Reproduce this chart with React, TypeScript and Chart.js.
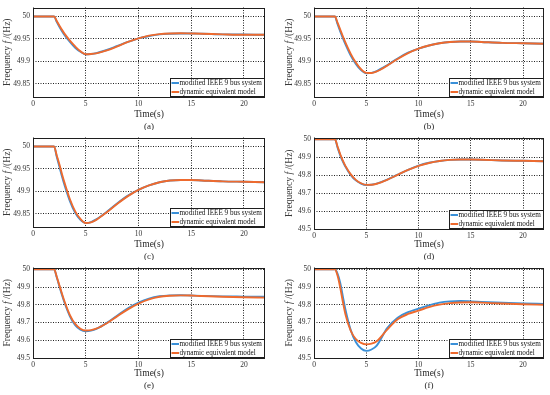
import React, { useEffect, useRef } from 'react';
import { Chart, registerables } from 'chart.js';

Chart.register(...registerables);

// ---------- data ----------
const time = [0, 2, 2.25, 2.5, 2.75, 3, 3.5, 4, 4.5, 5, 5.5, 6, 7, 8, 9, 10, 11, 12, 13, 14, 15, 16, 18, 20, 22];

const blueA = [50, 50, 49.988, 49.977, 49.967, 49.958, 49.943, 49.930, 49.921, 49.915, 49.916, 49.918, 49.925, 49.934, 49.943, 49.951, 49.956, 49.960, 49.9615, 49.962, 49.962, 49.9615, 49.960, 49.9595, 49.959];
const orangeA = [50, 50, 49.990, 49.980, 49.970, 49.961, 49.946, 49.933, 49.922, 49.9155, 49.916, 49.9175, 49.924, 49.933, 49.943, 49.951, 49.957, 49.9605, 49.962, 49.9625, 49.962, 49.9615, 49.960, 49.959, 49.959];

const blueB = [50, 50, 49.983, 49.967, 49.952, 49.938, 49.913, 49.894, 49.880, 49.873, 49.874, 49.878, 49.891, 49.906, 49.919, 49.928, 49.935, 49.940, 49.943, 49.944, 49.944, 49.943, 49.941, 49.940, 49.939];
const orangeB = [50, 50, 49.986, 49.971, 49.956, 49.942, 49.917, 49.897, 49.882, 49.874, 49.8735, 49.877, 49.890, 49.905, 49.918, 49.928, 49.935, 49.940, 49.943, 49.944, 49.944, 49.943, 49.941, 49.940, 49.939];

const blueC = [50, 50, 49.977, 49.955, 49.933, 49.913, 49.878, 49.852, 49.836, 49.829, 49.831, 49.837, 49.854, 49.873, 49.890, 49.903, 49.913, 49.920, 49.924, 49.925, 49.925, 49.924, 49.922, 49.921, 49.920];
const orangeC = [50, 50, 49.980, 49.960, 49.938, 49.918, 49.882, 49.855, 49.838, 49.829, 49.8305, 49.836, 49.853, 49.872, 49.889, 49.903, 49.913, 49.920, 49.924, 49.925, 49.925, 49.924, 49.922, 49.921, 49.920];

const blueD = [50, 50, 49.955, 49.912, 49.877, 49.848, 49.802, 49.771, 49.753, 49.745, 49.747, 49.753, 49.775, 49.803, 49.830, 49.853, 49.869, 49.879, 49.885, 49.887, 49.887, 49.886, 49.882, 49.880, 49.878];
const orangeD = [50, 50, 49.960, 49.918, 49.882, 49.852, 49.806, 49.774, 49.755, 49.746, 49.7465, 49.752, 49.774, 49.802, 49.829, 49.852, 49.868, 49.879, 49.885, 49.887, 49.887, 49.886, 49.882, 49.880, 49.878];

const blueE = [50, 50, 49.955, 49.905, 49.855, 49.810, 49.735, 49.685, 49.659, 49.650, 49.654, 49.664, 49.698, 49.740, 49.780, 49.812, 49.835, 49.848, 49.853, 49.854, 49.852, 49.850, 49.847, 49.846, 49.845];
const orangeE = [50, 50, 49.958, 49.910, 49.862, 49.817, 49.742, 49.692, 49.665, 49.655, 49.657, 49.665, 49.696, 49.736, 49.774, 49.806, 49.830, 49.845, 49.851, 49.853, 49.852, 49.849, 49.845, 49.842, 49.840];

const blueF = [50, 50, 49.975, 49.925, 49.850, 49.775, 49.660, 49.590, 49.553, 49.540, 49.548, 49.570, 49.668, 49.727, 49.758, 49.778, 49.797, 49.812, 49.819, 49.821, 49.819, 49.816, 49.811, 49.807, 49.805];
const orangeF = [50, 50, 49.965, 49.900, 49.820, 49.748, 49.655, 49.607, 49.585, 49.577, 49.581, 49.595, 49.660, 49.718, 49.748, 49.767, 49.787, 49.801, 49.809, 49.813, 49.814, 49.812, 49.807, 49.803, 49.800];

const xTicks = [0, 5, 10, 15, 20];
const yTicksFine = [49.85, 49.9, 49.95, 50];
const yTicksCoarse = [49.5, 49.6, 49.7, 49.8, 49.9, 50];
const seriesLabels = ['modified IEEE 9 bus system', 'dynamic equivalent model'];
const panelLabels = ['(a)', '(b)', '(c)', '(d)', '(e)', '(f)'];
const xTitle = 'Time(s)';
const yTitleParts = ['Frequency ', 'f', ' /(Hz)'];

// ---------- style / layout ----------
const BLUE = '#3a90d8';
const ORANGE = '#ee6a2e';
const FONT = '"Liberation Serif", "Times New Roman", serif';

type Panel = {
  label: string;
  blue: number[];
  orange: number[];
  yMin: number;
  yMax: number;
  yTicks: number[];
  left: number;
  top: number;
  w: number;
  h: number;
  area: [number, number, number, number];
  yTitleX: number;
  xTitleY: number;
  labelY: number;
};

const panels: Panel[] = [
  { label: panelLabels[0], blue: blueA, orange: orangeA, yMin: 49.82, yMax: 50.02, yTicks: yTicksFine, left: 0, top: 0, w: 275, h: 130, area: [33, 4, 265, 97], yTitleX: 7.5, xTitleY: 114, labelY: 127 },
  { label: panelLabels[1], blue: blueB, orange: orangeB, yMin: 49.82, yMax: 50.02, yTicks: yTicksFine, left: 275, top: 0, w: 275, h: 130, area: [39, 4, 269, 97], yTitleX: 14, xTitleY: 114, labelY: 127 },
  { label: panelLabels[2], blue: blueC, orange: orangeC, yMin: 49.82, yMax: 50.02, yTicks: yTicksFine, left: 0, top: 130, w: 275, h: 130, area: [33, 4, 265, 97], yTitleX: 7.5, xTitleY: 114, labelY: 127 },
  { label: panelLabels[3], blue: blueD, orange: orangeD, yMin: 49.5, yMax: 50.01, yTicks: yTicksCoarse, left: 275, top: 130, w: 275, h: 130, area: [39, 4, 269, 99], yTitleX: 14, xTitleY: 114, labelY: 127 },
  { label: panelLabels[4], blue: blueE, orange: orangeE, yMin: 49.5, yMax: 50.01, yTicks: yTicksCoarse, left: 0, top: 260, w: 275, h: 135, area: [33, 5, 265, 98], yTitleX: 7.5, xTitleY: 113, labelY: 126 },
  { label: panelLabels[5], blue: blueF, orange: orangeF, yMin: 49.5, yMax: 50.01, yTicks: yTicksCoarse, left: 275, top: 260, w: 275, h: 135, area: [39, 5, 269, 98], yTitleX: 14, xTitleY: 113, labelY: 126 },
];

function decoPlugin(p: Panel) {
  return {
    id: 'deco',
    afterDraw(chart: any) {
      const { ctx, chartArea: a } = chart;
      ctx.save();
      // axes box
      ctx.strokeStyle = '#1e1e1e';
      ctx.lineWidth = 1;
      ctx.setLineDash([]);
      ctx.strokeRect(Math.round(a.left) + 0.5, Math.round(a.top) + 0.5, Math.round(a.right - a.left) - 1, Math.round(a.bottom - a.top) - 1);

      // legend
      ctx.font = `7.2px ${FONT}`;
      const ds = chart.data.datasets;
      const tw = Math.max(...ds.map((d: any) => ctx.measureText(d.label).width));
      const w = Math.ceil(tw + 12);
      const h = 19;
      const x0 = Math.round(a.right) - w;
      const y0 = Math.round(a.bottom) - h;
      ctx.fillStyle = '#ffffff';
      ctx.fillRect(x0, y0, w, h);
      ctx.strokeStyle = '#1e1e1e';
      ctx.lineWidth = 1;
      ctx.strokeRect(x0 + 0.5, y0 + 0.5, w - 1, h - 1);
      ds.forEach((d: any, i: number) => {
        const cy = y0 + 5 + i * 9;
        ctx.strokeStyle = d.borderColor;
        ctx.lineWidth = 2;
        ctx.beginPath();
        ctx.moveTo(x0 + 1.5, cy);
        ctx.lineTo(x0 + 9, cy);
        ctx.stroke();
        ctx.fillStyle = '#111';
        ctx.textAlign = 'left';
        ctx.textBaseline = 'middle';
        ctx.fillText(d.label, x0 + 9.5, cy + 0.5);
      });

      // x title and panel label
      const cx = (a.left + a.right) / 2;
      ctx.fillStyle = '#262626';
      ctx.textAlign = 'center';
      ctx.textBaseline = 'middle';
      ctx.font = `9.5px ${FONT}`;
      ctx.fillText(xTitle, cx, p.xTitleY);
      ctx.font = `9px ${FONT}`;
      ctx.fillText(p.label, cx, p.labelY);

      // y title (rotated, italic f)
      ctx.translate(p.yTitleX, (a.top + a.bottom) / 2);
      ctx.rotate(-Math.PI / 2);
      const fonts = [`9.5px ${FONT}`, `italic 9.5px ${FONT}`, `9.5px ${FONT}`];
      const widths = yTitleParts.map((s, i) => {
        ctx.font = fonts[i];
        return ctx.measureText(s).width;
      });
      const total = widths.reduce((s, v) => s + v, 0);
      let x = -total / 2;
      ctx.textAlign = 'left';
      ctx.fillStyle = '#3a3a3a';
      yTitleParts.forEach((s, i) => {
        ctx.font = fonts[i];
        ctx.fillText(s, x, 0);
        x += widths[i];
      });
      ctx.restore();
    },
  };
}

function PanelChart({ p }: { p: Panel }) {
  const ref = useRef<HTMLCanvasElement | null>(null);
  useEffect(() => {
    if (!ref.current) return;
    const [l, t, r, b] = p.area;
    const tickFont = { family: FONT, size: 7.5 };
    const chart = new Chart(ref.current, {
      type: 'line',
      data: {
        datasets: [
          {
            label: seriesLabels[0],
            data: time.map((x, i) => ({ x, y: p.blue[i] })),
            borderColor: BLUE,
            borderWidth: 1.9,
            pointRadius: 0,
            fill: false,
            tension: 0.4,
            cubicInterpolationMode: 'monotone',
            order: 1,
          },
          {
            label: seriesLabels[1],
            data: time.map((x, i) => ({ x, y: p.orange[i] })),
            borderColor: ORANGE,
            borderWidth: 1.9,
            pointRadius: 0,
            fill: false,
            tension: 0.4,
            cubicInterpolationMode: 'monotone',
            order: 0,
          },
        ],
      },
      options: {
        responsive: false,
        animation: false,
        events: [],
        layout: { padding: { left: 0, top: t, right: p.w - r, bottom: 0 } },
        plugins: { legend: { display: false }, tooltip: { enabled: false }, title: { display: false } },
        scales: {
          x: {
            type: 'linear',
            min: 0,
            max: 22,
            afterBuildTicks: (s: any) => { s.ticks = xTicks.map((v) => ({ value: v })); },
            afterFit: (s: any) => { s.height = p.h - b; },
            ticks: { font: tickFont, color: '#333', padding: 3, autoSkip: false, maxRotation: 0, callback: (v: any) => String(v) },
            grid: { color: 'rgba(20,20,20,0.95)', lineWidth: 1, drawTicks: false },
            border: { display: false, dash: [1, 1.5] },
          },
          y: {
            type: 'linear',
            min: p.yMin,
            max: p.yMax,
            afterBuildTicks: (s: any) => { s.ticks = p.yTicks.map((v) => ({ value: v })); },
            afterFit: (s: any) => { s.width = l; },
            ticks: { font: tickFont, color: '#333', padding: 3, autoSkip: false, callback: (v: any) => String(+Number(v).toFixed(3)) },
            grid: { color: 'rgba(20,20,20,0.95)', lineWidth: 1, drawTicks: false },
            border: { display: false, dash: [1, 1.5] },
          },
        },
      },
      plugins: [decoPlugin(p)],
    } as any);
    return () => chart.destroy();
  }, [p]);
  return (
    <canvas
      ref={ref}
      width={p.w}
      height={p.h}
      style={{ position: 'absolute', left: p.left, top: p.top, width: p.w, height: p.h }}
    />
  );
}

export default function App() {
  return (
    <div style={{ position: 'absolute', left: 0, top: 0, width: 550, height: 395, background: '#fff', overflow: 'hidden' }}>
      {panels.map((p) => (
        <PanelChart key={p.label} p={p} />
      ))}
    </div>
  );
}
